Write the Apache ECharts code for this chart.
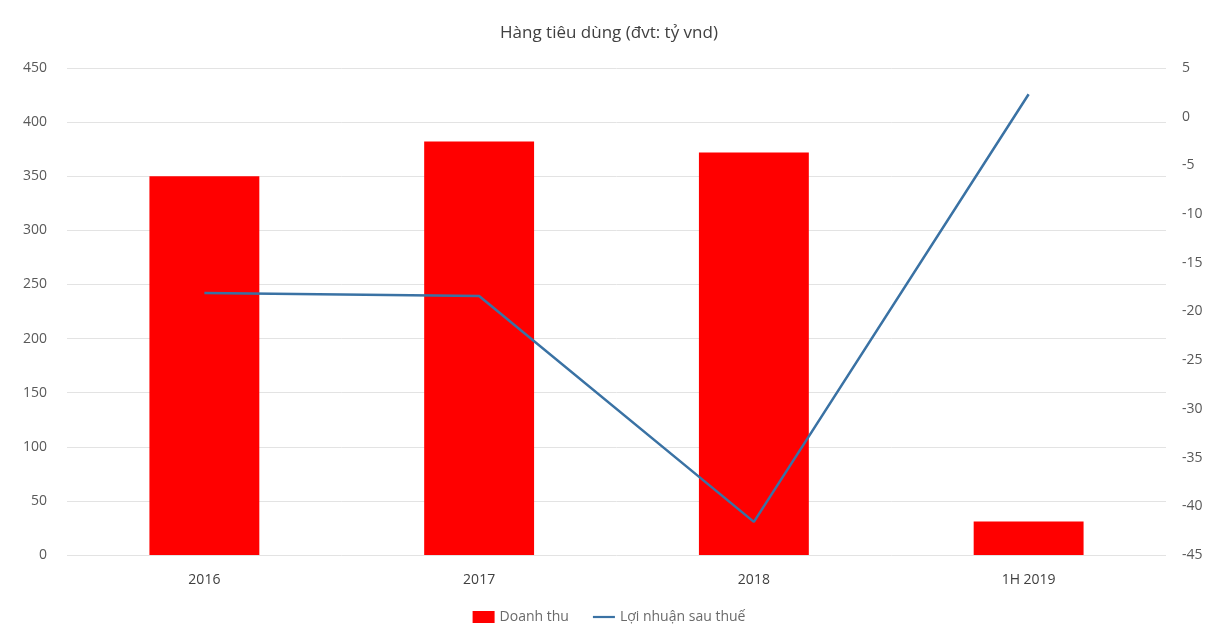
<!DOCTYPE html>
<html><head><meta charset="utf-8">
<script src="https://cdn.jsdelivr.net/npm/echarts@6/dist/echarts.min.js"></script>
<style>html,body{margin:0;padding:0;background:#fff}#c{width:1218px;height:631px}</style>
</head><body><div id="c"></div>
<script>
const categories = ['2016', '2017', '2018', '1H 2019'];
const revenue = [350, 382, 372, 31];
const profit = [-18.1, -18.4, -41.6, 2.3];
const leftTicks = {min: 0, max: 450, interval: 50};
const rightTicks = {min: -45, max: 5, interval: 5};

const chart = echarts.init(document.getElementById('c'));
const font = '"Open Sans", "Noto Sans", sans-serif';
chart.setOption({
  animation: false,
  backgroundColor: '#fff',
  title: {
    text: 'Hàng tiêu dùng (đvt: tỷ vnd)', left: 'center', top: 20,
    textStyle: {fontFamily: font, fontSize: 17, fontWeight: 'normal', color: '#404040'}
  },
  legend: {
    bottom: 2, left: 'center', itemGap: 24, itemWidth: 22, itemHeight: 12,
    textStyle: {fontFamily: font, fontSize: 14, color: '#6a6a6a'},
    data: [{name: 'Doanh thu', icon: 'rect'},
           {name: 'Lợi nhuận sau thuế', icon: 'path://M0,0h30v3h-30z'}]
  },
  grid: {left: 67, right: 52, top: 68, bottom: 76},
  xAxis: {
    type: 'category', data: categories,
    axisLine: {show: false}, axisTick: {show: false},
    axisLabel: {fontFamily: font, fontSize: 14, color: '#404040', margin: 18}
  },
  yAxis: [
    {type: 'value', min: leftTicks.min, max: leftTicks.max, interval: leftTicks.interval,
     axisLabel: {fontFamily: font, fontSize: 14, color: '#595959', margin: 20},
     splitLine: {lineStyle: {color: '#e3e3e3', width: 1}},
     axisLine: {show: false}, axisTick: {show: false}},
    {type: 'value', min: rightTicks.min, max: rightTicks.max, interval: rightTicks.interval,
     axisLabel: {fontFamily: font, fontSize: 14, color: '#595959', margin: 16},
     splitLine: {show: false}, axisLine: {show: false}, axisTick: {show: false}}
  ],
  series: [
    {name: 'Doanh thu', type: 'bar', data: revenue, barWidth: '40%',
     itemStyle: {color: '#ff0000'}},
    {name: 'Lợi nhuận sau thuế', type: 'line', yAxisIndex: 1, data: profit,
     symbol: 'none', lineStyle: {color: '#3a72a4', width: 2.5}, itemStyle: {color: '#3a72a4'}}
  ]
});
</script></body></html>
